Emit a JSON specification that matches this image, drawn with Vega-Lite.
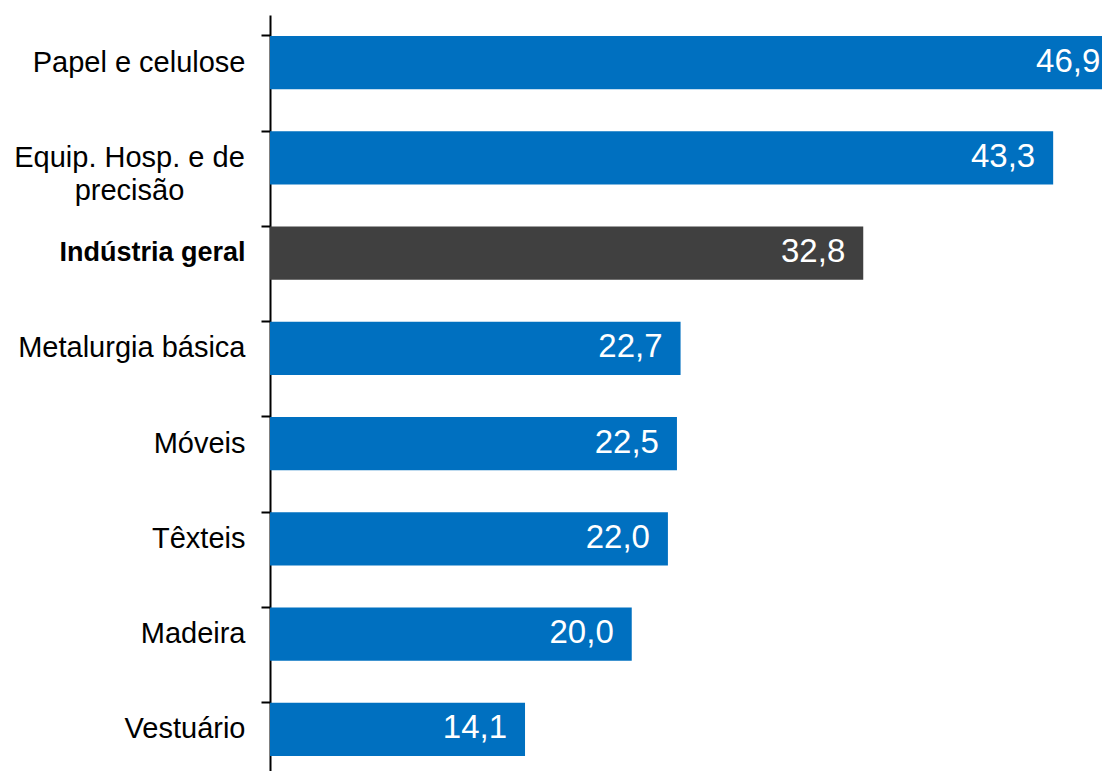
{
  "$schema": "https://vega.github.io/schema/vega-lite/v6.json",
  "autosize": "none",
  "padding": {"left": 270, "top": 15, "right": 0, "bottom": 0},
  "width": 832,
  "height": 756,
  "background": "white",
  "config": {
    "view": {"stroke": null},
    "locale": {"number": {"decimal": ",", "thousands": ".", "grouping": [3], "currency": ["R$", ""]}}
  },
  "data": {
    "values": [
      {"setor": "Papel e celulose", "valor": 46.9},
      {"setor": "Equip. Hosp. e de precisão", "valor": 43.3},
      {"setor": "Indústria geral", "valor": 32.8},
      {"setor": "Metalurgia básica", "valor": 22.7},
      {"setor": "Móveis", "valor": 22.5},
      {"setor": "Têxteis", "valor": 22.0},
      {"setor": "Madeira", "valor": 20.0},
      {"setor": "Vestuário", "valor": 14.1}
    ]
  },
  "encoding": {
    "y": {
      "field": "setor",
      "type": "nominal",
      "sort": null,
      "scale": {"range": [0, 762], "paddingInner": 0.44, "paddingOuter": 0.22},
      "axis": {
        "title": null,
        "bandPosition": 0,
        "tickSize": 9,
        "tickWidth": 2,
        "tickColor": "black",
        "domainWidth": 2,
        "domainColor": "black",
        "labelFont": "Liberation Sans",
        "labelFontSize": {"condition": {"test": "datum.value == 'Indústria geral'", "value": 27}, "value": 29},
        "labelColor": "black",
        "labelLimit": 0,
        "labelLineHeight": 33,
        "labelExpr": "datum.label == 'Equip. Hosp. e de precisão' ? ['Equip. Hosp. e de', 'precisão'] : datum.label",
        "labelAlign": {"condition": {"test": "datum.value == 'Equip. Hosp. e de precisão'", "value": "center"}, "value": "right"},
        "labelPadding": {"condition": {"test": "datum.value == 'Equip. Hosp. e de precisão'", "value": 132}, "value": 16},
        "labelFontWeight": {"condition": {"test": "datum.value == 'Indústria geral'", "value": "bold"}, "value": "normal"}
      }
    },
    "x": {
      "field": "valor",
      "type": "quantitative",
      "scale": {"domain": [0, 46]},
      "axis": null
    }
  },
  "layer": [
    {
      "mark": {"type": "bar", "clip": true},
      "encoding": {
        "color": {
          "condition": {"test": "datum.setor == 'Indústria geral'", "value": "#404040"},
          "value": "#0070C0"
        }
      }
    },
    {
      "mark": {"type": "text", "align": "right", "baseline": "middle", "dx": -18, "dy": -1, "font": "Liberation Sans", "fontSize": 33, "color": "white"},
      "encoding": {
        "text": {"field": "valor", "type": "quantitative", "format": ".1f"}
      }
    }
  ]
}
